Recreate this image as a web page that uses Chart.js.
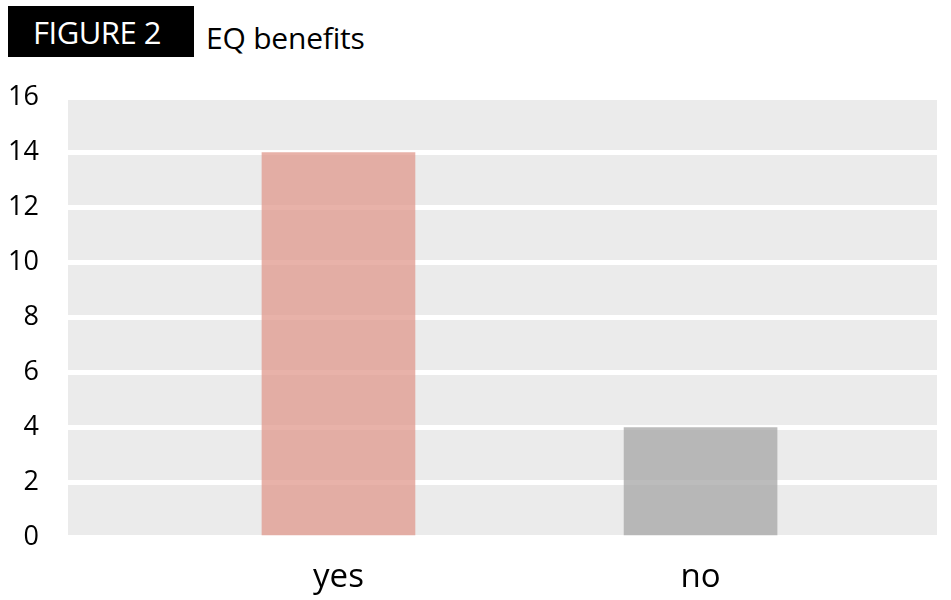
<!DOCTYPE html>
<html>
<head>
<meta charset="utf-8">
<script src="https://cdn.jsdelivr.net/npm/chart.js@4"></script>
<style>
  body { margin: 0; background: #fff; }
  #wrap { position: relative; width: 951px; height: 600px; font-family: "Open Sans", sans-serif; }
  #fig { position: absolute; left: 8px; top: 6px; width: 186px; height: 51px; background: #000; color: #fff;
         font-size: 31px; line-height: 52px; box-sizing: border-box; padding-left: 25px; letter-spacing: -0.5px; }
  #ttl { position: absolute; left: 206px; top: 18px; font-size: 30px; line-height: 40px; color: #000; letter-spacing: -0.2px; }
  canvas { position: absolute; left: 0; top: 0; }
</style>
</head>
<body>
<div id="wrap">
  <div id="fig">FIGURE 2</div>
  <div id="ttl">EQ benefits</div>
  <canvas id="chart" width="951" height="600"></canvas>
</div>
<script>
const categories = ['yes', 'no'];
const counts = [14, 4];
const barColors = ['rgba(224,152,140,0.75)', 'rgba(166,166,166,0.75)'];
const yTicks = [0, 2, 4, 6, 8, 10, 12, 14, 16];

// grey panel behind the bars
const panelBg = {
    id: 'panelBg',
    beforeDraw(chart) {
        const a = chart.chartArea;
        const ctx = chart.ctx;
        ctx.save();
        ctx.fillStyle = '#ebebeb';
        ctx.fillRect(a.left, a.top, a.right - a.left, a.bottom - a.top);
        ctx.restore();
    }
};

new Chart(document.getElementById('chart'), {
    type: 'bar',
    data: {
        datasets: [{
            data: counts.map((v, i) => ({ x: i + 1, y: v })),
            backgroundColor: barColors,
            barThickness: 153,
            borderWidth: 0
        }]
    },
    options: {
        responsive: false,
        animation: false,
        layout: { padding: { top: 97.5, right: 14, left: 0, bottom: 0 } },
        plugins: { legend: { display: false }, tooltip: { enabled: false } },
        scales: {
            x: {
                type: 'linear',
                offset: false,
                min: 0.253,
                max: 2.653,
                afterBuildTicks: s => { s.ticks = categories.map((c, i) => ({ value: i + 1 })); },
                afterFit: s => { s.height = 62.5; },
                ticks: {
                    callback: v => categories[v - 1],
                    font: { family: 'Open Sans', size: 33 },
                    color: '#000',
                    padding: 12,
                    maxRotation: 0
                },
                grid: { display: false, offset: false },
                border: { display: false }
            },
            y: {
                min: 0,
                max: 16,
                afterBuildTicks: s => { s.ticks = yTicks.map(v => ({ value: v })); },
                afterFit: s => { s.width = 68; },
                ticks: {
                    font: { family: 'Open Sans', size: 27 },
                    color: '#000',
                    padding: 29
                },
                grid: { color: '#fff', lineWidth: 5, drawTicks: false },
                border: { display: false }
            }
        }
    },
    plugins: [panelBg]
});
</script>
</body>
</html>
